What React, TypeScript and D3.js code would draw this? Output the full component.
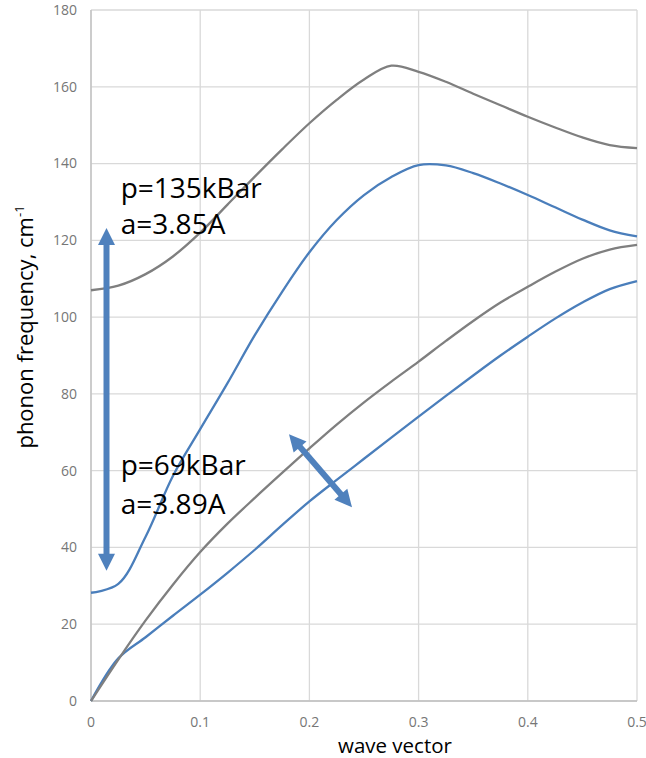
import React from "react";
import * as d3 from "d3";

// wave vector grid (shared by all four series)
const waveVector = [0, 0.025, 0.05, 0.075, 0.1, 0.125, 0.15, 0.175, 0.2, 0.225, 0.25, 0.275, 0.3, 0.325, 0.35, 0.375, 0.4, 0.425, 0.45, 0.475, 0.5];

// p = 135 kBar (gray)
const optical135 = [107.0, 108.2, 111.2, 115.8, 122.0, 129.3, 136.6, 143.7, 150.5, 156.6, 161.9, 165.5, 163.9, 161.3, 158.2, 155.2, 152.2, 149.4, 146.8, 144.8, 144.0];
const acoustic135 = [0, 10.8, 21.0, 30.3, 38.8, 46.2, 52.9, 59.4, 65.8, 72.0, 77.8, 83.2, 88.4, 93.8, 99.0, 103.8, 107.9, 111.8, 115.2, 117.6, 118.8];

// p = 69 kBar (blue)
const optical69 = [28.2, 30.5, 42.8, 58.6, 70.8, 82.8, 95.3, 106.6, 116.9, 125.3, 131.8, 136.5, 139.6, 139.5, 137.5, 134.8, 131.8, 128.6, 125.4, 122.6, 121.0];
const acoustic69 = [0, 11.1, 16.6, 22.2, 27.7, 33.4, 39.4, 45.8, 52.0, 57.6, 63.1, 68.6, 74.1, 79.5, 84.8, 90.0, 94.9, 99.6, 103.8, 107.3, 109.4];

const xTicks = [0, 0.1, 0.2, 0.3, 0.4, 0.5];
const yTicks = [0, 20, 40, 60, 80, 100, 120, 140, 160, 180];

// annotations in data coordinates
const labelTexts = ["p=135kBar", "a=3.85A", "p=69kBar", "a=3.89A"];
const labelQ = [0.0272, 0.0272, 0.0272, 0.0272];
const labelF = [131.1, 121.6, 58.9, 48.6];
const arrowStartQ = [0.0142, 0.1813];
const arrowStartF = [123.2, 69.5];
const arrowEndQ = [0.0142, 0.239];
const arrowEndF = [33.9, 50.5];

const W = 646;
const H = 758;
const M = { left: 91, right: 637, top: 10, bottom: 701 };

const GRAY = "#7f7f7f";
const BLUE = "#4a7ebb";
const ARROW = "#4f81bd";
const FONT = "'Open Sans', 'Noto Sans', sans-serif";

function Arrow({ x1, y1, x2, y2 }: { x1: number; y1: number; x2: number; y2: number }) {
  const dx = x2 - x1;
  const dy = y2 - y1;
  const len = Math.sqrt(dx * dx + dy * dy);
  const ux = dx / len;
  const uy = dy / len;
  const px = -uy;
  const py = ux;
  const headL = 17;
  const headW = 8.5;
  const head = (tx: number, ty: number, dirx: number, diry: number) => {
    const bx = tx - dirx * headL;
    const by = ty - diry * headL;
    return `${tx},${ty} ${bx + px * headW},${by + py * headW} ${bx - px * headW},${by - py * headW}`;
  };
  return (
    <g>
      <line
        x1={x1 + ux * (headL - 2)}
        y1={y1 + uy * (headL - 2)}
        x2={x2 - ux * (headL - 2)}
        y2={y2 - uy * (headL - 2)}
        stroke={ARROW}
        strokeWidth={6}
      />
      <polygon points={head(x1, y1, -ux, -uy)} fill={ARROW} />
      <polygon points={head(x2, y2, ux, uy)} fill={ARROW} />
    </g>
  );
}

export default function App() {
  const x = d3.scaleLinear().domain([0, 0.5]).range([M.left, M.right]);
  const y = d3.scaleLinear().domain([0, 180]).range([M.bottom, M.top]);

  const line = d3
    .line<number>()
    .x((_, i) => x(waveVector[i]))
    .y((d) => y(d))
    .curve(d3.curveCatmullRom.alpha(0.5));

  const series = [
    { data: acoustic69, color: BLUE },
    { data: optical69, color: BLUE },
    { data: acoustic135, color: GRAY },
    { data: optical135, color: GRAY },
  ];

  return (
    <svg
      width={W}
      height={H}
      style={{ position: "absolute", left: 0, top: 0, background: "#fff" }}
      fontFamily={FONT}
    >
      <rect x={0} y={0} width={W} height={H} fill="#fff" />
      {/* grid */}
      {yTicks.map((t) => (
        <line key={"gy" + t} x1={M.left} x2={M.right} y1={y(t)} y2={y(t)} stroke="#d9d9d9" strokeWidth={1.3} />
      ))}
      {xTicks.map((t) => (
        <line key={"gx" + t} x1={x(t)} x2={x(t)} y1={M.top} y2={M.bottom} stroke="#d9d9d9" strokeWidth={1.3} />
      ))}
      {/* axes */}
      <line x1={M.left} x2={M.left} y1={M.top} y2={M.bottom} stroke="#bfbfbf" strokeWidth={1.3} />
      <line x1={M.left} x2={M.right} y1={M.bottom} y2={M.bottom} stroke="#bfbfbf" strokeWidth={1.3} />

      {/* tick labels */}
      {yTicks.map((t) => (
        <text key={"ty" + t} x={M.left - 14} y={y(t)} dy="0.35em" textAnchor="end" fontSize={14} fill="#767676">
          {t}
        </text>
      ))}
      {xTicks.map((t) => (
        <text key={"tx" + t} x={x(t)} y={727} textAnchor="middle" fontSize={14} fill="#767676">
          {t}
        </text>
      ))}

      {/* axis titles */}
      <text x={395} y={753} textAnchor="middle" fontSize={20.5} fill="#000">
        wave vector
      </text>
      <text transform="translate(33,327) rotate(-90)" textAnchor="middle" fontSize={22} fill="#000">
        phonon frequency, cm
        <tspan fontSize={13} dy={-9}>
          -1
        </tspan>
      </text>

      {/* curves */}
      {series.map((s, i) => (
        <path key={"s" + i} d={line(s.data) || ""} fill="none" stroke={s.color} strokeWidth={2.3} />
      ))}

      {/* annotations */}
      {labelTexts.map((t, i) => (
        <text key={"l" + i} x={x(labelQ[i])} y={y(labelF[i])} fontSize={28} fill="#000">
          {t}
        </text>
      ))}
      {arrowStartQ.map((q, i) => (
        <Arrow key={"a" + i} x1={x(q)} y1={y(arrowStartF[i])} x2={x(arrowEndQ[i])} y2={y(arrowEndF[i])} />
      ))}
    </svg>
  );
}
